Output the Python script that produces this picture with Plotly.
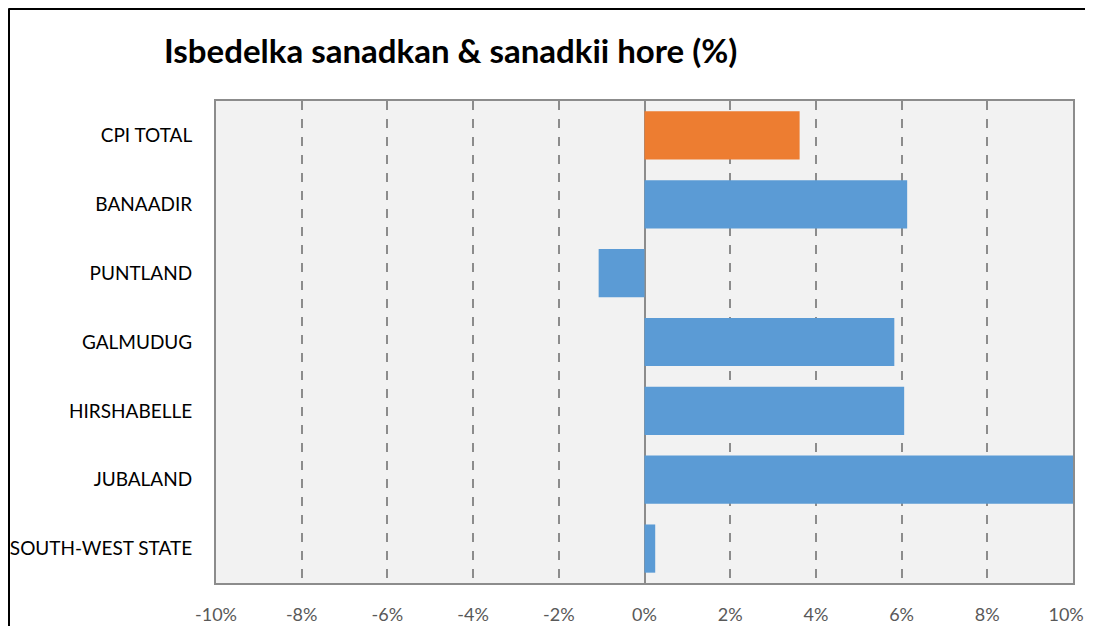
import plotly.graph_objects as go

categories = ["CPI TOTAL", "BANAADIR", "PUNTLAND", "GALMUDUG", "HIRSHABELLE", "JUBALAND", "SOUTH-WEST STATE"]
values = [3.62, 6.13, -1.07, 5.83, 6.06, 10.0, 0.25]
colors = ["#ED7D31", "#5B9BD5", "#5B9BD5", "#5B9BD5", "#5B9BD5", "#5B9BD5", "#5B9BD5"]
tick_vals = [-10, -8, -6, -4, -2, 0, 2, 4, 6, 8, 10]
tick_text = ["-10%", "-8%", "-6%", "-4%", "-2%", "0%", "2%", "4%", "6%", "8%", "10%"]
title = "Isbedelka sanadkan & sanadkii hore (%)"

OFF = 8  # page body margin
WIN_W, WIN_H = 1093, 634
W, H = WIN_W - 2 * OFF, WIN_H - 2 * OFF
# target page-pixel positions of the plot area
PL, PR, PT, PB = 216, 1073, 101, 583
L, T = PL - OFF, PT - OFF
R, B = W - (PR - OFF), H - (PB - OFF)
pw, ph = W - L - R, H - T - B

# keep the last label inside the page edge (pad with non-breaking spaces)
shown_ticks = tick_text[:-1] + [tick_text[-1] + "\u00a0\u00a0\u00a0"]

fig = go.Figure(go.Bar(
    x=values, y=categories, orientation="h",
    marker=dict(color=colors, line=dict(width=0)),
    hoverinfo="x+y",
))

def px_x(p):
    return (p - PL) / pw

def px_y(p):
    return 1 - (p - PT) / ph

shapes = [
    dict(type="line", xref="paper", yref="paper", x0=px_x(8.5), x1=px_x(WIN_W + 20), y0=px_y(9), y1=px_y(9),
         line=dict(color="black", width=2)),
    dict(type="line", xref="paper", yref="paper", x0=px_x(9), x1=px_x(9), y0=px_y(8.5), y1=px_y(WIN_H + 20),
         line=dict(color="black", width=2)),
]

fig.update_layout(
    width=W, height=H,
    margin=dict(l=L, r=R, t=T, b=B, autoexpand=False),
    paper_bgcolor="white",
    plot_bgcolor="#F2F2F2",
    bargap=0.30,
    showlegend=False,
    shapes=shapes,
    font=dict(family="Lato, Open Sans, sans-serif"),
    annotations=[dict(
        text="<b>" + title + "</b>", xref="paper", yref="paper",
        x=px_x(450), y=px_y(50), xanchor="center", yanchor="middle",
        showarrow=False, font=dict(size=33, color="black", family="Lato, Open Sans, sans-serif"),
    )],
)

fig.update_xaxes(
    range=[-10, 10], tickvals=tick_vals, ticktext=shown_ticks,
    showgrid=True, gridcolor="#8C8C8C", gridwidth=1.5, griddash="dash",
    zeroline=True, zerolinecolor="#8C8C8C", zerolinewidth=2,
    showline=True, linecolor="#8C8C8C", linewidth=2, mirror=True,
    tickfont=dict(size=18, color="#595959"), ticks="", ticklabelstandoff=14,
    ticklabeloverflow="allow",
    automargin=False, fixedrange=True,
)
fig.update_yaxes(
    categoryorder="array", categoryarray=categories, autorange="reversed",
    showgrid=False, showline=True, linecolor="#8C8C8C", linewidth=2, mirror=True,
    tickfont=dict(size=19, color="black"), ticks="", ticklabelstandoff=18,
    automargin=False, fixedrange=True,
)

fig.write_html("out.html")
